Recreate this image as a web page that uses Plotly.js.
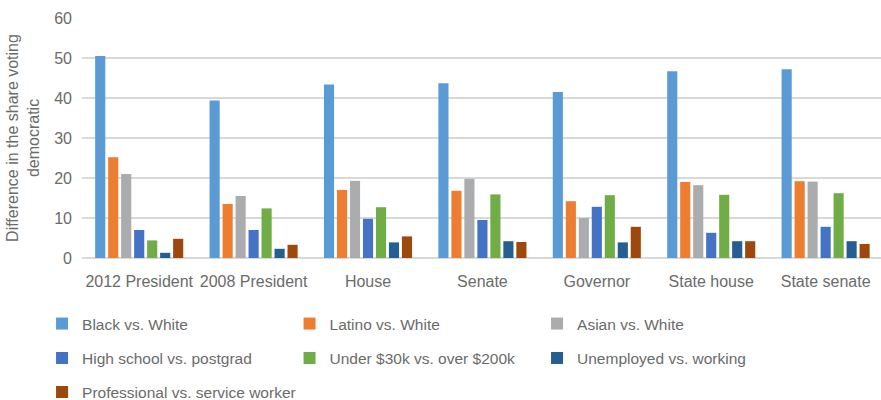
<!DOCTYPE html>
<html>
<head>
<meta charset="utf-8">
<script src="https://cdn.plot.ly/plotly-3.0.1.min.js"></script>
<style>
  html, body { margin: 0; padding: 0; background: #fff; }
  #chart { width: 881px; height: 400px; }
</style>
</head>
<body>
<div id="chart"></div>
<script>
const categories = ["2012 President", "2008 President", "House", "Senate", "Governor", "State house", "State senate"];

const seriesNames = [
  "Black vs. White",
  "Latino vs. White",
  "Asian vs. White",
  "High school vs. postgrad",
  "Under $30k vs. over $200k",
  "Unemployed vs. working",
  "Professional vs. service worker"
];

const blackVsWhite        = [50.5, 39.4, 43.4, 43.7, 41.5, 46.7, 47.2];
const latinoVsWhite       = [25.2, 13.5, 17.0, 16.8, 14.2, 19.0, 19.2];
const asianVsWhite        = [21.0, 15.5, 19.3, 19.8, 10.0, 18.2, 19.1];
const highSchoolVsPostgrad= [7.0, 7.0, 9.8, 9.5, 12.8, 6.3, 7.8];
const under30kVsOver200k  = [4.4, 12.4, 12.7, 15.9, 15.7, 15.8, 16.2];
const unemployedVsWorking = [1.3, 2.3, 3.9, 4.2, 3.9, 4.2, 4.2];
const professionalVsService = [4.8, 3.3, 5.4, 4.0, 7.8, 4.2, 3.5];

const seriesValues = [blackVsWhite, latinoVsWhite, asianVsWhite, highSchoolVsPostgrad,
                      under30kVsOver200k, unemployedVsWorking, professionalVsService];

const yTickValues = [0, 10, 20, 30, 40, 50, 60];

const colors = ["#5B9BD5", "#ED7D31", "#ABACAE", "#4472C4", "#70AD47", "#255E91", "#9E480E"];
const legendIds = ["legend", "legend", "legend", "legend2", "legend2", "legend2", "legend3"];

const textColor = "#6b6b6b";
const fontFamily = "Liberation Sans, Arial, Helvetica, sans-serif";

const traces = seriesNames.map((name, i) => ({
  type: "bar",
  name: name,
  x: categories,
  y: seriesValues[i],
  marker: { color: colors[i], line: { width: 0 } },
  legend: legendIds[i],
  hoverinfo: "x+y+name"
}));

const legendBase = {
  orientation: "h",
  xanchor: "left",
  x: -0.05,
  yanchor: "middle",
  entrywidth: 202.5,
  entrywidthmode: "pixels",
  font: { family: fontFamily, size: 15.5, color: textColor },
  bgcolor: "rgba(0,0,0,0)",
  traceorder: "normal"
};

const layout = {
  width: 881,
  height: 400,
  margin: { l: 82, r: 0, t: 18, b: 142, pad: 0, autoexpand: false },
  paper_bgcolor: "#ffffff",
  plot_bgcolor: "#ffffff",
  font: { family: fontFamily, size: 16, color: textColor },
  barmode: "group",
  bargap: 0.205,
  bargroupgap: 0.22,
  showlegend: true,
  legend: Object.assign({}, legendBase, { y: -0.275 }),
  legend2: Object.assign({}, legendBase, { y: -0.418 }),
  legend3: Object.assign({}, legendBase, { y: -0.56, entrywidth: 320 }),
  xaxis: {
    type: "category",
    range: [-0.5, 6.484],
    showgrid: false,
    zeroline: false,
    showline: false,
    ticks: "",
    tickfont: { family: fontFamily, size: 16, color: textColor },
    ticklabelstandoff: 12,
    automargin: false
  },
  yaxis: {
    range: [0, 60],
    tickvals: yTickValues,
    ticktext: yTickValues.map(String),
    showgrid: true,
    gridcolor: "#d9d9d9",
    gridwidth: 1.5,
    zeroline: true,
    zerolinecolor: "#d9d9d9",
    zerolinewidth: 1.5,
    showline: false,
    ticks: "",
    tickfont: { family: fontFamily, size: 16, color: textColor },
    ticklabelstandoff: 9,
    automargin: false,
    title: {
      text: "Difference in the share voting<br>democratic",
      font: { family: fontFamily, size: 16, color: textColor },
      standoff: 10
    }
  }
};

Plotly.newPlot("chart", traces, layout, { displayModeBar: false, staticPlot: true });
</script>
</body>
</html>
